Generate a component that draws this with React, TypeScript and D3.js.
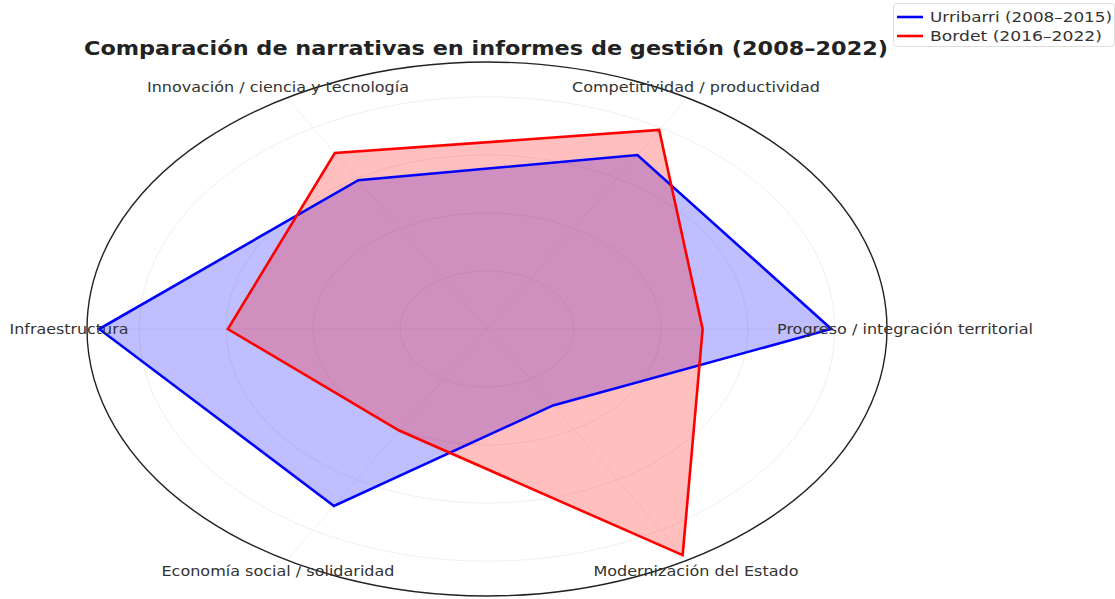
import React from 'react';
import * as d3 from 'd3';

const categories = [
  'Progreso / integración territorial',
  'Competitividad / productividad',
  'Innovación / ciencia y tecnología',
  'Infraestructura',
  'Economía social / solidaridad',
  'Modernización del Estado',
];
// widths the labels take in the (horizontally stretched) original
const labelWidths = [256, 248, 262, 119, 233, 205];
const urribarri = [19.8, 17.3, 14.8, 22.3, 17.6, 7.6];
const bordet = [12.4, 19.8, 17.5, 14.9, 10.1, 22.5];
const seriesNames = ['Urribarri (2008–2015)', 'Bordet (2016–2022)'];
const legendWidths = [182, 172];
const radialTicks = [5, 10, 15, 20];

const W = 1115;
const H = 599;
const cx = 487;
const cy = 329;
const rx = 400;
const ry = 267;
const rmax = 23;

export default function App() {
  const r = d3.scaleLinear().domain([0, rmax]).range([0, 1]);
  const angle = d3
    .scaleLinear()
    .domain([0, categories.length])
    .range([0, 2 * Math.PI]);

  const px = (v: number, i: number) => cx + r(v) * rx * Math.cos(angle(i));
  const py = (v: number, i: number) => cy - r(v) * ry * Math.sin(angle(i));

  const line = d3
    .line<number>()
    .x((d, i) => px(d, i))
    .y((d, i) => py(d, i))
    .curve(d3.curveLinearClosed);

  const series = [
    { name: seriesNames[0], values: urribarri, color: '#0000ff' },
    { name: seriesNames[1], values: bordet, color: '#ff0000' },
  ];

  const font = 'DejaVu Sans, Verdana, sans-serif';

  return (
    <svg
      width={W}
      height={H}
      style={{ position: 'absolute', left: 0, top: 0, background: '#fff' }}
      fontFamily={font}
    >
      {/* grid rings */}
      {radialTicks.map((t) => (
        <ellipse
          key={t}
          cx={cx}
          cy={cy}
          rx={r(t) * rx}
          ry={r(t) * ry}
          fill="none"
          stroke="#f0f0f0"
          strokeWidth={1}
        />
      ))}
      {/* spokes */}
      {categories.map((c, i) => (
        <line
          key={c}
          x1={cx}
          y1={cy}
          x2={px(rmax, i)}
          y2={py(rmax, i)}
          stroke="#f2f2f2"
          strokeWidth={1}
        />
      ))}
      <ellipse cx={cx} cy={cy} rx={rx} ry={ry} fill="none" stroke="#222" strokeWidth={1.4} />

      {series.map((s) => (
        <path key={s.name} d={line(s.values) || ''} fill={s.color} fillOpacity={0.25} stroke="none" />
      ))}
      {series.map((s) => (
        <path
          key={s.name}
          d={line(s.values) || ''}
          fill="none"
          stroke={s.color}
          strokeWidth={2.6}
          strokeLinejoin="miter"
        />
      ))}

      {/* category labels */}
      {categories.map((c, i) => (
        <text
          key={c}
          x={cx + 1.045 * rx * Math.cos(angle(i)) - labelWidths[i] / 2}
          y={cy - 1.045 * ry * Math.sin(angle(i))}
          dominantBaseline="central"
          fontSize={13.5}
          fill="#333"
          textLength={labelWidths[i]}
          lengthAdjust="spacingAndGlyphs"
        >
          {c}
        </text>
      ))}

      <text
        x={84}
        y={55}
        fontSize={20}
        fontWeight="bold"
        fill="#222"
        textLength={804}
        lengthAdjust="spacingAndGlyphs"
      >
        Comparación de narrativas en informes de gestión (2008–2022)
      </text>

      {/* legend */}
      <g>
        <rect x={893.5} y={3.5} width={221} height={43} rx={3} fill="#fff" fillOpacity={0.8} stroke="#ddd" />
        {series.map((s, i) => (
          <g key={s.name} transform={`translate(0,${17 + i * 19})`}>
            <line x1={897} x2={923} y1={0} y2={0} stroke={s.color} strokeWidth={2.6} />
            <text
              x={930}
              y={0}
              dominantBaseline="central"
              fontSize={14}
              fill="#333"
              textLength={legendWidths[i]}
              lengthAdjust="spacingAndGlyphs"
            >
              {s.name}
            </text>
          </g>
        ))}
      </g>
    </svg>
  );
}
